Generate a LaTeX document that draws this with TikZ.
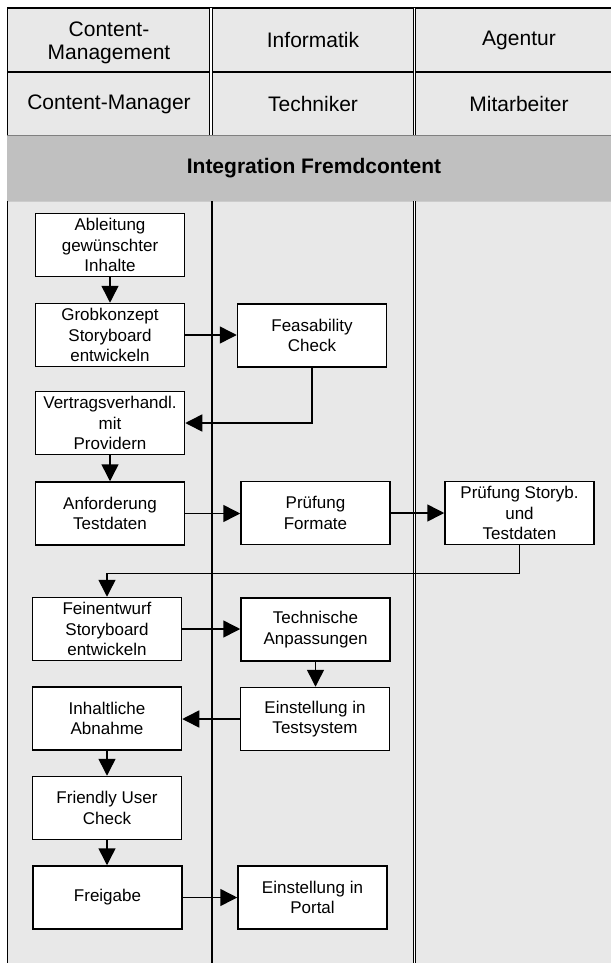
\documentclass[tikz,border=0pt]{standalone}
\usepackage{fontspec}
\setmainfont{Liberation Sans}
\usetikzlibrary{arrows.meta}
\definecolor{lanegray}{HTML}{E8E8E8}
\definecolor{bandgray}{HTML}{C0C0C0}
\begin{document}
\begin{tikzpicture}[x=1pt,y=-1pt,
  box/.style={draw, line width=1.5pt, fill=white, minimum width=149pt, minimum height=63pt, inner sep=0pt, align=center, font=\fontsize{17}{20.5}\selectfont},
  arr/.style={line width=1.5pt, -{Triangle[length=17pt,width=17pt]}},
  hdr/.style={align=center, font=\fontsize{21}{23.5}\selectfont, inner sep=0pt},
  ln/.style={line width=1.5pt},
  dbl/.style={double, line width=1pt, double distance=1.5pt}
]
\useasboundingbox (0,0) rectangle (611,963);
% backgrounds
\fill[lanegray] (7,8) rectangle (611,963);
% header lines
\draw[ln] (7,8) -- (611,8);
\draw[ln] (7,72) -- (611,72);
\draw[ln] (7.5,8) -- (7.5,135);
\draw[dbl] (211,8) -- (211,135);
\draw[dbl] (414.5,8) -- (414.5,135);
% band
\fill[bandgray] (7,135) rectangle (611,201);
\draw[gray, line width=0.8pt] (7,135.5) -- (611,135.5);
\draw[gray!40, line width=0.8pt] (7,201) -- (611,201);
% lane lines
\draw[ln] (7.5,201) -- (7.5,963);
\draw[ln] (212,201) -- (212,963);
\draw[dbl] (414.5,201) -- (414.5,963);
% header texts
\node[hdr] (h1) at (109,43) {Content-\\Management};
\node[hdr] (h2) at (313,40) {Informatik};
\node[hdr] (h3) at (519,40) {Agentur};
\node[hdr] (r1) at (109,104) {Content-Manager};
\node[hdr] (r2) at (313,104) {Techniker};
\node[hdr] (r3) at (519,104) {Mitarbeiter};
\node[hdr, font=\fontsize{21}{23.5}\selectfont\bfseries] (band) at (314,168) {Integration Fremdcontent};
% boxes
\node[box] (abl) at (110,245) {Ableitung\\gewünschter\\Inhalte};
\node[box] (grob) at (110,335) {Grobkonzept\\Storyboard\\entwickeln};
\node[box] (vert) at (110,423) {Vertragsverhandl.\\mit\\Providern};
\node[box] (anf) at (110,513.5) {Anforderung\\Testdaten};
\node[box] (fein) at (107,629) {Feinentwurf\\Storyboard\\entwickeln};
\node[box] (inh) at (107,718.5) {Inhaltliche\\Abnahme};
\node[box] (fri) at (107,808) {Friendly User\\Check};
\node[box] (frei) at (107.5,897.5) {Freigabe};
\node[box] (feas) at (312,335.5) {Feasability\\Check};
\node[box] (pf) at (315.5,513) {Prüfung\\Formate};
\node[box] (tech) at (315.5,629.5) {Technische\\Anpassungen};
\node[box] (ets) at (315,719) {Einstellung in\\Testsystem};
\node[box] (portal) at (312.5,897.5) {Einstellung in\\Portal};
\node[box] (ps) at (519.5,513) {Prüfung Storyb.\\und\\Testdaten};
% connectors
\draw[arr] (abl.south) -- (abl.south |- grob.north);
\draw[arr] (grob.east) -- (grob.east -| feas.west);
\draw[arr] (feas.south) |- (vert.east);
\draw[arr] (vert.south) -- (vert.south |- anf.north);
\draw[arr] (anf.east) -- (anf.east -| pf.west);
\draw[arr] (pf.east) -- (pf.east -| ps.west);
\draw[arr] (ps.south) -- ++(0,28) -| (fein.north);
\draw[arr] (fein.east) -- (fein.east -| tech.west);
\draw[arr] (tech.south) -- (tech.south |- ets.north);
\draw[arr] (ets.west) -- (ets.west -| inh.east);
\draw[arr] (inh.south) -- (inh.south |- fri.north);
\draw[arr] (fri.south) -- (fri.south |- frei.north);
\draw[arr] (frei.east) -- (frei.east -| portal.west);
\end{tikzpicture}
\end{document}
